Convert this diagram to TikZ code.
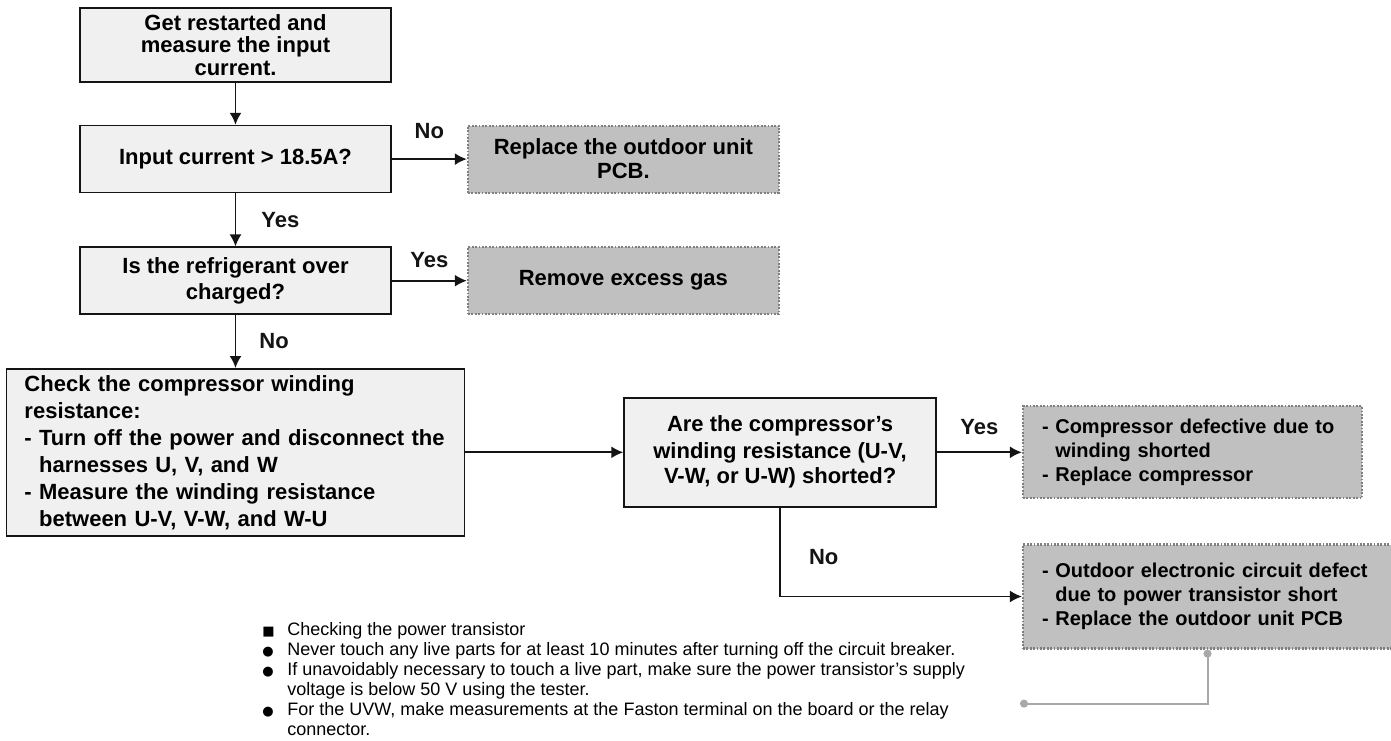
\documentclass[tikz,border=0pt]{standalone}
\usepackage{fontspec}
\setmainfont{Liberation Sans}
\newfontfamily\symfont{DejaVu Sans}
\usetikzlibrary{arrows.meta,positioning}
\definecolor{PaleGray}{RGB}{240,240,240}
\definecolor{MidGray}{RGB}{192,192,192}
\definecolor{DotGray}{RGB}{128,128,128}
\definecolor{LeadGray}{RGB}{168,168,168}
\definecolor{InkBlack}{RGB}{20,20,20}
\tikzset{
  proc/.style={draw=InkBlack,fill=PaleGray,line width=0.8pt,inner sep=0pt,
    minimum width=155.5pt,minimum height=33.5pt,align=center,
    font=\fontsize{11}{13}\selectfont\bfseries},
  action/.style={draw=DotGray,fill=MidGray,line width=1.1pt,
    dash pattern=on 0.9pt off 0.8pt,inner sep=0pt,minimum width=155.5pt,
    minimum height=33.5pt,align=center,font=\fontsize{11}{12}\selectfont\bfseries},
  remedy/.style={action,align=left,inner xsep=9.5pt,
    font=\fontsize{10}{12}\selectfont\bfseries},
  lbl/.style={inner sep=0pt,font=\fontsize{11}{13}\selectfont\bfseries},
  arrow/.style={-{Latex[length=6pt,width=6pt]},line width=0.9pt,InkBlack},
  leader/.style={{Circle[length=4pt]}-{Circle[length=4pt]},line width=1pt,LeadGray},
  notes/.style={inner sep=0pt,align=left,font=\fontsize{9}{10}\selectfont}
}
\newcommand{\sqmark}{{\symfont\fontsize{6.5}{10}\selectfont ■}}
\newcommand{\dotmark}{{\symfont\fontsize{6.5}{10}\selectfont ●}}
\begin{document}
\begin{tikzpicture}[node distance=26.5pt]
  \useasboundingbox (0,0) rectangle (695.5pt,-370pt);
  \node[proc,minimum height=37pt,font=\fontsize{11}{11.3}\selectfont\bfseries]
    (start) at (117.75pt,-22.5pt) {Get restarted and\\measure the input\\current.};
  \node[proc,below=21pt of start] (cur) {Input current > 18.5A?};
  \node[proc,below=of cur] (gas) {Is the refrigerant over\\charged?};
  \node[proc,below=of gas,align=left,text width=211pt,inner xsep=9pt,
    minimum height=83.5pt,font=\fontsize{11}{13.5}\selectfont\bfseries] (check)
    {Check the compressor winding\\resistance:\\- Turn off the power and disconnect the\\
     \hphantom{- }harnesses U, V, and W\\- Measure the winding resistance\\
     \hphantom{- }between U-V, V-W, and W-U};
  \node[proc,right=79pt of check,minimum width=156pt,minimum height=54.5pt] (shorted)
    {Are the compressor’s\\winding resistance (U-V,\\V-W, or U-W) shorted?};

  \node[action,right=37.5pt of cur] (pcb) {Replace the outdoor unit\\PCB.};
  \node[action,right=37.5pt of gas] (excess) {Remove excess gas};
  \node[remedy,right=42.5pt of shorted,text width=150.5pt,minimum height=46pt] (comp)
    {- Compressor defective due to\\\hphantom{- }winding shorted\\- Replace compressor};
  \node[remedy,below=22pt of comp.south west,anchor=north west,
    text width=165.5pt,minimum height=52pt] (board)
    {- Outdoor electronic circuit defect\\\hphantom{- }due to power transistor short\\
     - Replace the outdoor unit PCB};

  \draw[arrow] (start) -- (cur);
  \draw[arrow] (cur) -- node[lbl,above=9.75pt] {No} (pcb);
  \draw[arrow] (cur) -- node[lbl,right=12.5pt] {Yes} (gas);
  \draw[arrow] (gas) -- node[lbl,above=6.25pt] {Yes} (excess);
  \draw[arrow] (gas) -- node[lbl,right=11.5pt] {No} (check);
  \draw[arrow] (check) -- (shorted);
  \draw[arrow] (shorted) -- node[lbl,above=8.5pt] {Yes} (comp);
  \draw[arrow] (shorted) |- node[lbl,right=14pt,pos=0.28] {No} (board);

  \coordinate[below left=27pt and 93.75pt of board.south] (lead);
  \draw[leader] (board.south) |- (lead);

  \node[notes,anchor=north west] (notes) at (131pt,-310.5pt) {%
    \begin{tabular}{@{}p{12.5pt}@{}l@{}}
      \sqmark & Checking the power transistor\\
      \dotmark & Never touch any live parts for at least 10 minutes after turning off the circuit breaker.\\
      \dotmark & If unavoidably necessary to touch a live part, make sure the power transistor’s supply\\
      & voltage is below 50 V using the tester.\\
      \dotmark & For the UVW, make measurements at the Faston terminal on the board or the relay\\
      & connector.
    \end{tabular}};
\end{tikzpicture}
\end{document}
